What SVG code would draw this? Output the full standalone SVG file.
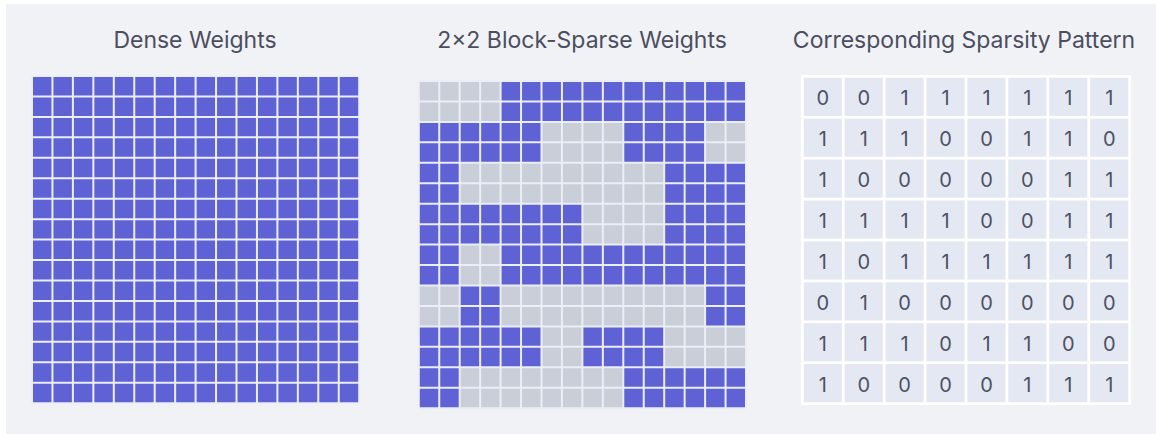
<svg xmlns="http://www.w3.org/2000/svg" xmlns:xlink="http://www.w3.org/1999/xlink" width="1156" height="434" viewBox="0 0 1156 434">
  <style>
    .title { font-family: Inter, "Noto Sans", "Liberation Sans", sans-serif; font-size: 23px; fill: #4b4e5f; text-anchor: middle; }
    .digit { font-family: Inter, "Noto Sans", "Liberation Sans", sans-serif; font-size: 20px; fill: #4e5164; text-anchor: middle; }
    .blue { fill: #5f62d5; }
    .grey { fill: #c9ced9; }
    .lines { stroke: #eceef5; stroke-width: 2; fill: none; }
    .pcell { fill: #e4e8f3; }
  </style>
  <defs>
    <path id="gridlines" class="lines" d="M0 0V327.2M20.45 0V327.2M40.9 0V327.2M61.35 0V327.2M81.8 0V327.2M102.25 0V327.2M122.7 0V327.2M143.15 0V327.2M163.6 0V327.2M184.05 0V327.2M204.5 0V327.2M224.95 0V327.2M245.4 0V327.2M265.85 0V327.2M286.3 0V327.2M306.75 0V327.2M327.2 0V327.2M0 0H327.2M0 20.45H327.2M0 40.9H327.2M0 61.35H327.2M0 81.8H327.2M0 102.25H327.2M0 122.7H327.2M0 143.15H327.2M0 163.6H327.2M0 184.05H327.2M0 204.5H327.2M0 224.95H327.2M0 245.4H327.2M0 265.85H327.2M0 286.3H327.2M0 306.75H327.2M0 327.2H327.2"/>
  </defs>
  <rect x="0" y="0" width="1156" height="434" fill="#ffffff"/>
  <rect x="6" y="4" width="1150" height="430" fill="#f1f2f6"/>

  <g id="dense">
    <text class="title" x="195" y="48">Dense Weights</text>
    <g transform="translate(32 76)">
      <rect class="blue" x="0" y="0" width="327.2" height="327.2"/>
      <use xlink:href="#gridlines"/>
    </g>
  </g>

  <g id="block-sparse">
    <text class="title" x="582" y="48">2×2 Block-Sparse Weights</text>
    <g transform="translate(418.8 81)">
      <rect class="grey" x="0" y="0" width="327.2" height="327.2"/>
      <rect class="blue" x="81.8" y="0" width="245.4" height="40.9"/>
      <rect class="blue" x="0" y="40.9" width="122.7" height="40.9"/>
      <rect class="blue" x="204.5" y="40.9" width="81.8" height="40.9"/>
      <rect class="blue" x="0" y="81.8" width="40.9" height="40.9"/>
      <rect class="blue" x="245.4" y="81.8" width="81.8" height="40.9"/>
      <rect class="blue" x="0" y="122.7" width="163.6" height="40.9"/>
      <rect class="blue" x="245.4" y="122.7" width="81.8" height="40.9"/>
      <rect class="blue" x="0" y="163.6" width="40.9" height="40.9"/>
      <rect class="blue" x="81.8" y="163.6" width="245.4" height="40.9"/>
      <rect class="blue" x="40.9" y="204.5" width="40.9" height="40.9"/>
      <rect class="blue" x="286.3" y="204.5" width="40.9" height="40.9"/>
      <rect class="blue" x="0" y="245.4" width="122.7" height="40.9"/>
      <rect class="blue" x="163.6" y="245.4" width="81.8" height="40.9"/>
      <rect class="blue" x="0" y="286.3" width="40.9" height="40.9"/>
      <rect class="blue" x="204.5" y="286.3" width="122.7" height="40.9"/>
      <use xlink:href="#gridlines"/>
    </g>
  </g>

  <g id="pattern">
    <text class="title" x="964" y="48">Corresponding Sparsity Pattern</text>
    <rect x="801" y="75" width="330" height="330" fill="#ffffff"/>
    <g transform="translate(803.75 77.75)">
      <g id="prow">
        <rect class="pcell" x="0" y="0" width="38.16" height="38.16"/>
        <rect class="pcell" x="40.91" y="0" width="38.16" height="38.16"/>
        <rect class="pcell" x="81.82" y="0" width="38.16" height="38.16"/>
        <rect class="pcell" x="122.73" y="0" width="38.16" height="38.16"/>
        <rect class="pcell" x="163.64" y="0" width="38.16" height="38.16"/>
        <rect class="pcell" x="204.55" y="0" width="38.16" height="38.16"/>
        <rect class="pcell" x="245.46" y="0" width="38.16" height="38.16"/>
        <rect class="pcell" x="286.37" y="0" width="38.16" height="38.16"/>
      </g>
      <use xlink:href="#prow" y="40.91"/>
      <use xlink:href="#prow" y="81.82"/>
      <use xlink:href="#prow" y="122.73"/>
      <use xlink:href="#prow" y="163.64"/>
      <use xlink:href="#prow" y="204.55"/>
      <use xlink:href="#prow" y="245.46"/>
      <use xlink:href="#prow" y="286.37"/>
    </g>
    <g class="digit">
      <text x="822.8" y="105.3">0</text><text x="863.7" y="105.3">0</text><text x="904.6" y="105.3">1</text><text x="945.5" y="105.3">1</text><text x="986.5" y="105.3">1</text><text x="1027.4" y="105.3">1</text><text x="1068.3" y="105.3">1</text><text x="1109.2" y="105.3">1</text>
      <text x="822.8" y="146.2">1</text><text x="863.7" y="146.2">1</text><text x="904.6" y="146.2">1</text><text x="945.5" y="146.2">0</text><text x="986.5" y="146.2">0</text><text x="1027.4" y="146.2">1</text><text x="1068.3" y="146.2">1</text><text x="1109.2" y="146.2">0</text>
      <text x="822.8" y="187.1">1</text><text x="863.7" y="187.1">0</text><text x="904.6" y="187.1">0</text><text x="945.5" y="187.1">0</text><text x="986.5" y="187.1">0</text><text x="1027.4" y="187.1">0</text><text x="1068.3" y="187.1">1</text><text x="1109.2" y="187.1">1</text>
      <text x="822.8" y="228.0">1</text><text x="863.7" y="228.0">1</text><text x="904.6" y="228.0">1</text><text x="945.5" y="228.0">1</text><text x="986.5" y="228.0">0</text><text x="1027.4" y="228.0">0</text><text x="1068.3" y="228.0">1</text><text x="1109.2" y="228.0">1</text>
      <text x="822.8" y="268.9">1</text><text x="863.7" y="268.9">0</text><text x="904.6" y="268.9">1</text><text x="945.5" y="268.9">1</text><text x="986.5" y="268.9">1</text><text x="1027.4" y="268.9">1</text><text x="1068.3" y="268.9">1</text><text x="1109.2" y="268.9">1</text>
      <text x="822.8" y="309.8">0</text><text x="863.7" y="309.8">1</text><text x="904.6" y="309.8">0</text><text x="945.5" y="309.8">0</text><text x="986.5" y="309.8">0</text><text x="1027.4" y="309.8">0</text><text x="1068.3" y="309.8">0</text><text x="1109.2" y="309.8">0</text>
      <text x="822.8" y="350.7">1</text><text x="863.7" y="350.7">1</text><text x="904.6" y="350.7">1</text><text x="945.5" y="350.7">0</text><text x="986.5" y="350.7">1</text><text x="1027.4" y="350.7">1</text><text x="1068.3" y="350.7">0</text><text x="1109.2" y="350.7">0</text>
      <text x="822.8" y="391.6">1</text><text x="863.7" y="391.6">0</text><text x="904.6" y="391.6">0</text><text x="945.5" y="391.6">0</text><text x="986.5" y="391.6">0</text><text x="1027.4" y="391.6">1</text><text x="1068.3" y="391.6">1</text><text x="1109.2" y="391.6">1</text>
    </g>
  </g>
</svg>
